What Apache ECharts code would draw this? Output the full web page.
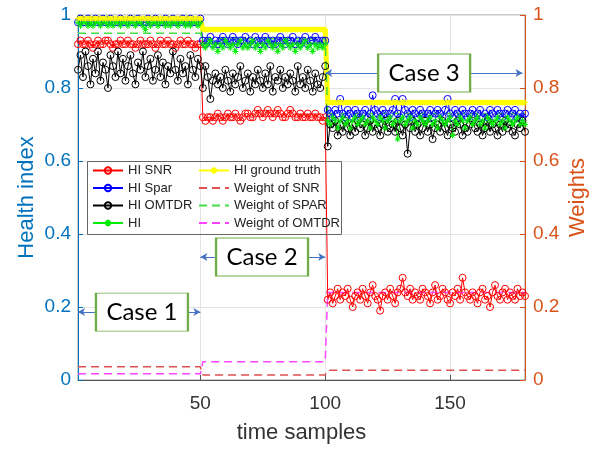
<!DOCTYPE html>
<html>
<head>
<meta charset="utf-8">
<script src="https://cdn.jsdelivr.net/npm/echarts@6/dist/echarts.min.js"></script>
<style>
  html, body { margin: 0; padding: 0; background: #fff; }
  #chart { width: 595px; height: 449px; }
</style>
</head>
<body>
<div id="chart"></div>
<script>
// case boundaries (time samples)
const caseStart = [1, 51, 101];
const caseEnd = [50, 100, 180];
const xTicks = [50, 100, 150];

// HI SNR
const snrCase1 = [0.92,0.93,0.92,0.92,0.93,0.92,0.91,0.92,0.93,0.92,
  0.92,0.93,0.93,0.92,0.91,0.92,0.92,0.93,0.92,0.92,
  0.93,0.92,0.92,0.91,0.92,0.93,0.92,0.92,0.92,0.93,
  0.92,0.91,0.92,0.93,0.92,0.92,0.93,0.92,0.92,0.91,
  0.92,0.93,0.92,0.92,0.93,0.92,0.92,0.91,0.92,0.92];
const snrCase2 = [0.72,0.71,0.72,0.72,0.71,0.72,0.73,0.72,0.71,0.72,
  0.73,0.72,0.72,0.73,0.72,0.71,0.72,0.73,0.73,0.72,
  0.72,0.73,0.74,0.73,0.72,0.73,0.74,0.73,0.72,0.73,
  0.74,0.73,0.72,0.72,0.73,0.74,0.73,0.72,0.72,0.73,
  0.72,0.72,0.73,0.72,0.72,0.73,0.72,0.72,0.71,0.72];
const snrCase3 = [0.22,0.24,0.21,0.23,0.25,0.22,0.24,0.23,0.25,0.22,
  0.20,0.23,0.24,0.22,0.25,0.23,0.21,0.24,0.26,0.23,
  0.22,0.19,0.23,0.24,0.22,0.25,0.23,0.21,0.24,0.25,
  0.28,0.24,0.23,0.25,0.22,0.24,0.23,0.22,0.25,0.24,
  0.23,0.21,0.24,0.26,0.22,0.23,0.25,0.24,0.22,0.21,
  0.24,0.23,0.25,0.22,0.28,0.24,0.23,0.22,0.24,0.23,
  0.21,0.24,0.25,0.22,0.23,0.20,0.24,0.26,0.23,0.22,
  0.24,0.25,0.22,0.24,0.23,0.22,0.25,0.23,0.24,0.23];

// HI Spar
const sparCase1 = [0.98,0.99,0.98,0.98,0.99,0.98,0.98,0.99,0.98,0.98,
  0.99,0.98,0.98,0.99,0.98,0.98,0.98,0.99,0.98,0.98,
  0.98,0.99,0.98,0.98,0.99,0.98,0.98,0.98,0.99,0.98,
  0.98,0.99,0.98,0.98,0.98,0.99,0.98,0.98,0.99,0.98,
  0.98,0.98,0.99,0.98,0.98,0.99,0.98,0.98,0.98,0.99];
const sparCase2 = [0.93,0.92,0.93,0.94,0.92,0.93,0.92,0.93,0.94,0.93,
  0.92,0.93,0.94,0.93,0.92,0.93,0.93,0.94,0.92,0.93,
  0.92,0.94,0.93,0.92,0.93,0.94,0.93,0.92,0.93,0.92,
  0.93,0.94,0.93,0.92,0.93,0.93,0.94,0.92,0.93,0.92,
  0.93,0.94,0.92,0.93,0.93,0.94,0.93,0.92,0.93,0.93];
const sparCase3 = [0.74,0.73,0.72,0.74,0.73,0.77,0.73,0.72,0.74,0.73,
  0.72,0.74,0.73,0.72,0.73,0.74,0.72,0.73,0.78,0.74,
  0.73,0.72,0.74,0.73,0.72,0.73,0.74,0.77,0.73,0.72,
  0.77,0.74,0.73,0.72,0.74,0.73,0.72,0.74,0.73,0.72,
  0.73,0.74,0.72,0.73,0.74,0.73,0.72,0.74,0.77,0.73,
  0.72,0.74,0.73,0.72,0.74,0.73,0.72,0.73,0.74,0.72,
  0.73,0.74,0.72,0.73,0.72,0.74,0.73,0.72,0.74,0.73,
  0.72,0.73,0.74,0.72,0.73,0.74,0.72,0.73,0.72,0.73];

// HI OMTDR
const omtdrCase1 = [0.85,0.89,0.83,0.90,0.86,0.81,0.88,0.84,0.90,0.82,
  0.87,0.85,0.80,0.89,0.86,0.83,0.90,0.84,0.88,0.82,
  0.86,0.89,0.84,0.81,0.87,0.85,0.90,0.83,0.86,0.88,
  0.82,0.85,0.89,0.83,0.87,0.81,0.86,0.84,0.90,0.85,
  0.82,0.88,0.84,0.86,0.81,0.89,0.85,0.83,0.88,0.86];
const omtdrCase2 = [0.80,0.86,0.83,0.77,0.82,0.84,0.81,0.83,0.80,0.85,
  0.82,0.79,0.84,0.81,0.83,0.86,0.80,0.82,0.84,0.79,
  0.83,0.81,0.85,0.82,0.80,0.84,0.81,0.86,0.79,0.83,
  0.82,0.85,0.80,0.83,0.81,0.84,0.82,0.79,0.86,0.81,
  0.83,0.80,0.85,0.82,0.79,0.84,0.81,0.80,0.83,0.86];
const omtdrCase3 = [0.64,0.70,0.69,0.71,0.67,0.70,0.68,0.71,0.69,0.67,
  0.70,0.68,0.71,0.69,0.70,0.67,0.69,0.71,0.68,0.70,
  0.69,0.67,0.70,0.71,0.68,0.69,0.70,0.68,0.71,0.69,
  0.67,0.70,0.62,0.69,0.71,0.68,0.70,0.67,0.69,0.71,
  0.68,0.70,0.66,0.69,0.70,0.68,0.71,0.69,0.67,0.70,
  0.69,0.68,0.71,0.70,0.67,0.69,0.68,0.70,0.71,0.69,
  0.68,0.70,0.67,0.69,0.71,0.68,0.70,0.69,0.67,0.70,
  0.68,0.71,0.69,0.70,0.68,0.67,0.70,0.69,0.71,0.68];

// HI (fused)
const hiCase1 = [0.98,0.97,0.98,0.98,0.97,0.98,0.97,0.98,0.98,0.97,
  0.98,0.98,0.97,0.98,0.97,0.98,0.98,0.97,0.98,0.98,
  0.97,0.98,0.98,0.97,0.98,0.98,0.97,0.96,0.98,0.97,
  0.98,0.98,0.97,0.98,0.98,0.97,0.98,0.97,0.98,0.98,
  0.97,0.98,0.98,0.97,0.98,0.97,0.98,0.98,0.97,0.98];
const hiCase2 = [0.92,0.91,0.92,0.93,0.91,0.92,0.90,0.92,0.91,0.93,
  0.92,0.91,0.92,0.90,0.92,0.93,0.91,0.92,0.91,0.92,
  0.93,0.91,0.92,0.90,0.92,0.91,0.93,0.92,0.91,0.92,
  0.90,0.92,0.91,0.93,0.92,0.91,0.92,0.90,0.92,0.91,
  0.92,0.93,0.91,0.92,0.90,0.92,0.91,0.92,0.91,0.92];
const hiCase3 = [0.71,0.70,0.72,0.71,0.69,0.71,0.72,0.70,0.71,0.69,
  0.71,0.72,0.70,0.71,0.72,0.70,0.71,0.69,0.72,0.71,
  0.70,0.72,0.71,0.69,0.71,0.72,0.70,0.71,0.66,0.71,
  0.72,0.70,0.71,0.72,0.69,0.71,0.70,0.72,0.71,0.70,
  0.71,0.72,0.70,0.71,0.69,0.72,0.71,0.70,0.71,0.72,
  0.67,0.71,0.70,0.72,0.71,0.69,0.71,0.72,0.70,0.71,
  0.72,0.70,0.71,0.69,0.72,0.71,0.70,0.71,0.72,0.70,
  0.71,0.69,0.72,0.71,0.70,0.71,0.72,0.70,0.71,0.70];

// ground truth level per case, weights per case
const truthLevel = [0.99, 0.96, 0.76];
const wSnr = [0.036, 0.014, 0.027];
const wSpar = [0.95, 0.935, 0.73];
const wOmtdr = [0.017, 0.05, 0.24];

// annotations
const caseNames = ['Case 1', 'Case 2', 'Case 3'];
const caseArrowY = [0.186, 0.337, 0.841];
const caseArrowEnd = [50, 100, 179];
const caseBoxX = [26.6, 74.7, 139.6];

const blue = '#0072BD', orange = '#D95319';
const font = 'Liberation Sans';

function withX(arr, start) { return arr.map((v, i) => [start + i, v]); }
function joinCases(a, b, c) {
  return withX(a, caseStart[0]).concat(withX(b, caseStart[1]), withX(c, caseStart[2]));
}
function stepLine(levels) {
  const out = [];
  levels.forEach((v, i) => { out.push([caseStart[i], v]); out.push([caseEnd[i], v]); });
  return out;
}
function perSample(levels) {
  const out = [];
  levels.forEach((v, i) => { for (let x = caseStart[i]; x <= caseEnd[i]; x++) out.push([x, v]); });
  return out;
}

const asterisk = 'path://M0,5L10,5M5,0L5,10M1.5,1.5L8.5,8.5M8.5,1.5L1.5,8.5';

function markerSeries(name, data, color, symbol, size) {
  return {
    name: name, type: 'line', data: data, symbol: symbol, symbolSize: size,
    lineStyle: { color: color, width: 1 },
    itemStyle: { color: symbol === 'circle' ? 'rgba(255,255,255,0)' : color, borderColor: color, borderWidth: 1 },
    emphasis: { disabled: true }
  };
}
function weightSeries(name, data, color) {
  return {
    name: name, type: 'line', yAxisIndex: 1, data: data, symbol: 'none',
    lineStyle: { color: color, width: 1.5, type: [8, 5] },
    itemStyle: { color: 'rgba(0,0,0,0)', borderColor: 'rgba(0,0,0,0)' },
    emphasis: { disabled: true }
  };
}

const chart = echarts.init(document.getElementById('chart'));
chart.setOption({
  animation: false,
  backgroundColor: '#fff',
  textStyle: { fontFamily: font },
  grid: {
    left: 78, right: 70, top: 15, bottom: 69, outerBoundsMode: 'none',
    show: true, borderColor: '#999', borderWidth: 1
  },
  xAxis: {
    type: 'value', min: 1, max: 180,
    name: 'time samples', nameLocation: 'middle', nameGap: 42,
    nameTextStyle: { fontSize: 22, color: '#333' },
    axisLine: { lineStyle: { color: '#555' } },
    axisTick: { inside: true, length: 5, customValues: xTicks, lineStyle: { color: '#555' } },
    axisLabel: { customValues: xTicks, fontSize: 19, color: '#333', margin: 14 },
    splitLine: { show: true, lineStyle: { color: '#e4e4e4' } }
  },
  yAxis: [{
    type: 'value', min: 0, max: 1, interval: 0.2, position: 'left',
    name: 'Health index', nameLocation: 'middle', nameGap: 40, nameMoveOverlap: false,
    nameTextStyle: { fontSize: 22, color: blue },
    axisLine: { show: true, lineStyle: { color: blue } },
    axisTick: { show: true, inside: true, length: 5, lineStyle: { color: blue } },
    axisLabel: { fontSize: 19, color: blue, margin: 7 },
    splitLine: { show: true, lineStyle: { color: '#e4e4e4' } }
  }, {
    type: 'value', min: 0, max: 1, interval: 0.2, position: 'right',
    name: 'Weights', nameLocation: 'middle', nameGap: 42, nameRotate: 90, nameMoveOverlap: false,
    nameTextStyle: { fontSize: 22, color: orange },
    axisLine: { show: true, lineStyle: { color: orange } },
    axisTick: { show: true, inside: true, length: 5, lineStyle: { color: orange } },
    axisLabel: { fontSize: 19, color: orange, margin: 8 },
    splitLine: { show: false }
  }],
  legend: [{
    orient: 'vertical', left: 92, top: 164, padding: 0, itemGap: 4.5,
    itemWidth: 30, itemHeight: 8,
    data: ['HI SNR', 'HI Spar', 'HI OMTDR', 'HI'],
    textStyle: { fontSize: 13, lineHeight: 13, color: '#222', fontFamily: font }
  }, {
    orient: 'vertical', left: 198, top: 164, padding: 0, itemGap: 4.5,
    itemWidth: 30, itemHeight: 8,
    data: ['HI ground truth', 'Weight of SNR', 'Weight of SPAR', 'Weight of OMTDR'],
    textStyle: { fontSize: 13, lineHeight: 13, color: '#222', fontFamily: font }
  }],
  graphic: [{
    type: 'rect', left: 85, top: 159, z: 10,
    shape: { width: 254, height: 73 },
    style: { fill: 'none', stroke: '#666', lineWidth: 1 }
  }],
  series: [
    markerSeries('HI SNR', joinCases(snrCase1, snrCase2, snrCase3), '#ff0000', 'circle', 7),
    markerSeries('HI Spar', joinCases(sparCase1, sparCase2, sparCase3), '#0000ff', 'circle', 7),
    markerSeries('HI OMTDR', joinCases(omtdrCase1, omtdrCase2, omtdrCase3), '#000000', 'circle', 7),
    markerSeries('HI', joinCases(hiCase1, hiCase2, hiCase3), '#00ee00', asterisk, 6),
    Object.assign(markerSeries('HI ground truth', perSample(truthLevel), '#ffff00', asterisk, 6),
      { lineStyle: { color: '#ffff00', width: 5 } }),
    weightSeries('Weight of SNR', stepLine(wSnr), '#e05050'),
    weightSeries('Weight of SPAR', stepLine(wSpar), '#44dd44'),
    weightSeries('Weight of OMTDR', stepLine(wOmtdr), '#ff44ff'),
    {
      name: 'arrows', type: 'line', data: [], silent: true,
      markLine: {
        silent: true, symbol: ['arrow', 'arrow'], symbolSize: [6, 7],
        label: { show: false },
        lineStyle: { color: '#4472C4', width: 1, type: 'solid' },
        data: caseNames.map((n, i) => [{ coord: [caseStart[i] === 1 ? 1 : caseStart[i] - 1, caseArrowY[i]] },
                                        { coord: [caseArrowEnd[i], caseArrowY[i]] }])
      }
    },
    {
      name: 'boxes', type: 'line', data: [], silent: true, z: 5,
      markPoint: {
        silent: true, symbol: 'rect', symbolSize: [92, 38],
        itemStyle: { color: '#fff', borderColor: '#70AD47', borderWidth: 1.5 },
        label: { show: true, position: 'inside', formatter: '{b}', color: '#000', fontSize: 24, fontFamily: 'Lato' },
        data: caseNames.map((n, i) => ({ name: n, coord: [caseBoxX[i], caseArrowY[i]] }))
      }
    }
  ]
});
</script>
</body>
</html>
